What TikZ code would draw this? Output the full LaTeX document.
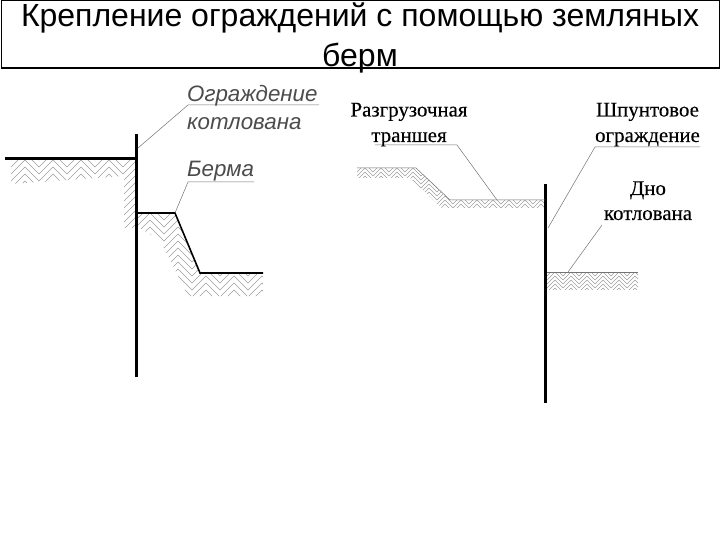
\documentclass[tikz,border=0pt]{standalone}
\usepackage{fontspec}
\setmainfont{Liberation Sans}
\newfontfamily\serfont[FakeBold=0.25]{Liberation Serif}
\tikzset{
  x=1pt,y=-1pt,
  wall/.style={line width=3pt,black},
  ground/.style={line width=1.6pt,black},
  leader/.style={line width=0.5pt,black!55},
  hatchline/.style={line width=0.4pt,black!38},
  drawn/.style={inner sep=0pt,font=\itshape\fontsize{22.3}{26}\selectfont,text=black!70},
  printed/.style={inner sep=0pt,font=\serfont\fontsize{20.9}{24}\selectfont,text=black},
  titletext/.style={inner sep=0pt,align=center,font=\fontsize{32}{39.5}\selectfont}
}
% #1 cell width; #2,#3 x range; #4,#5 y range; #6 clip path (herringbone stripes)
\newcommand{\hatchfill}[6]{%
  \begin{scope}
    \clip #6;
    \pgfmathtruncatemacro{\sa}{#2-#1}
    \pgfmathtruncatemacro{\sb}{\sa+2*#1}
    \pgfmathtruncatemacro{\ta}{#4-#1}
    \pgfmathtruncatemacro{\tb}{\ta+#1/2}
    \pgfmathtruncatemacro{\tc}{#5+#1}
    \foreach \s in {\sa,\sb,...,#3}
      \foreach \t in {\ta,\tb,...,\tc}
        \draw[hatchline] (\s,\t) -- ++(#1,#1) -- ++(#1,-#1);
  \end{scope}
}
\begin{document}
\begin{tikzpicture}
\useasboundingbox (0,0) rectangle (720,540);
\fill[white] (0,0) rectangle (720,540);
% title
\node[draw=black,line width=1pt,minimum width=718,minimum height=67,anchor=north west,inner sep=0pt] (frame) at (0.5,0.5) {};
\draw[line width=1.4pt] (frame.south west) -- (frame.south east);
\node[titletext] (title) at (360,38) {Крепление ограждений с помощью земляных\\берм};
% left hatching
\hatchfill{14}{11}{136}{160}{228}{(11,160) -- (136,160) -- (136,228) -- (124,228) -- (124,176) -- (11,184) -- cycle}
\hatchfill{14}{136}{263}{213}{296}{(136,213) -- (175,213) -- (200,273) -- (263,273) -- (263,296) -- (188,296) -- (160,240) -- (136,226) -- cycle}
% left lines
\coordinate (wt) at (136,134);
\coordinate (wb) at (136,377);
\coordinate (gl) at (5,159);
\coordinate (gr) at (136,159);
\coordinate (b1) at (136,213);
\coordinate (b2) at (175,213);
\coordinate (b3) at (200,273);
\coordinate (b4) at (263,273);
\draw[wall] (wt) -- (wb);
\draw[wall] (gl) -- (gr);
\draw[ground] (b1) -- (b2) -- (b3) -- (b4);
\coordinate (l1a) at (138,148);
\coordinate (l1b) at (188,105);
\coordinate (l1c) at (319,105);
\draw[leader] (l1a) -- (l1b) -- (l1c);
\coordinate (l2b) at (188,182);
\coordinate (l2c) at (254,182);
\draw[leader] (b2) -- (l2b) -- (l2c);
\node[drawn,anchor=base west] (t1) at (187,101.5) {Ограждение};
\node[drawn,anchor=base west] (t2) at (187,130) {котлована};
\node[drawn,anchor=base west] (t3) at (187,177) {Берма};
% right hatching
\hatchfill{8}{357}{545}{168}{208}{(357,168) -- (416,168) -- (450,200) -- (545,200) -- (545,208) -- (442,208) -- (410,178) -- (357,178) -- cycle}
\hatchfill{8}{547}{638}{272}{289}{(547,272) -- (638,272) -- (638,289) -- (547,289) -- cycle}
% right lines
\coordinate (rt) at (545.5,184);
\coordinate (rb) at (545.5,403);
\draw[wall] (rt) -- (rb);
\coordinate (g1) at (357,168);
\coordinate (g2) at (416,168);
\coordinate (g3) at (450,200);
\coordinate (g4) at (545,200);
\draw[leader] (g1) -- (g2) -- (g3) -- (g4);
\coordinate (f1) at (547,272);
\coordinate (f2) at (638,272);
\draw[leader] (f1) -- (f2);
\coordinate (r1a) at (375,145);
\coordinate (r1b) at (457,145);
\coordinate (r1c) at (497,200);
\draw[leader] (r1a) -- (r1b) -- (r1c);
\coordinate (r2a) at (548,228);
\coordinate (r2b) at (595,147);
\coordinate (r2c) at (700,147);
\draw[leader] (r2a) -- (r2b) -- (r2c);
\coordinate (r3a) at (568,272);
\coordinate (r3b) at (602,225);
\draw[leader] (r3a) -- (r3b);
\node[printed,anchor=base] (p1) at (409,116.5) {Разгрузочная};
\node[printed,anchor=base] (p2) at (409,142) {траншея};
\node[printed,anchor=base] (p3) at (647.5,116.5) {Шпунтовое};
\node[printed,anchor=base] (p4) at (647.5,142) {ограждение};
\node[printed,anchor=base] (p5) at (648,195) {Дно};
\node[printed,anchor=base] (p6) at (648,220) {котлована};
\end{tikzpicture}
\end{document}
